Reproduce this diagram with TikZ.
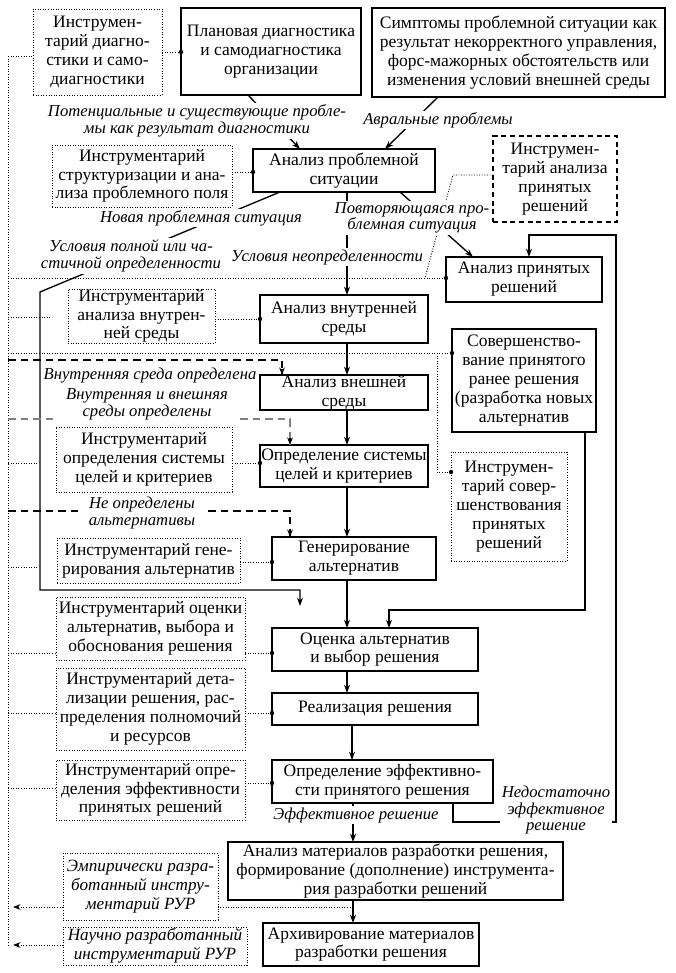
\documentclass[tikz,border=0pt]{standalone}
\usepackage{fontspec}
\setmainfont{Liberation Serif}
\usetikzlibrary{arrows.meta,calc}
\newcommand\mybox[7]{\node[#1, minimum width={(#5-#3)*0.6pt}, minimum height={(#6-#4)*0.6pt}] (#2) at ({(#3+#5)/2},{(#4+#6)/2}) {#7};}
\newcommand\tbconn[3]{\coordinate (tmp) at (0,#3); \draw[conn] (#1.east |- tmp) -- (#2.west |- tmp); \fill (#2.west |- tmp) circle (1.3pt);}
\begin{document}
\begin{tikzpicture}[x=0.6pt,y=-0.6pt,
 box/.style={draw, line width=0.8pt, align=center, inner sep=0pt, outer sep=0pt, font=\fontsize{10.5}{11.3}\selectfont},
 tool/.style={draw, line width=0.55pt, dash pattern=on 0.55pt off 1pt, align=center, inner sep=0pt, outer sep=0pt, font=\fontsize{10.5}{11.3}\selectfont},
 tooldash/.style={tool, line width=0.75pt, dash pattern=on 3pt off 2.2pt},
 itool/.style={tool, font=\itshape\fontsize{10.3}{11.3}\selectfont},
 conn/.style={line width=0.55pt, dash pattern=on 0.55pt off 1pt},
 arr/.style={line width=0.8pt, -{Stealth[length=5pt,width=3.6pt]}},
 darr/.style={-{Stealth[length=4.5pt,width=3.4pt]}},
 lab/.style={font=\itshape\fontsize{10}{10}\selectfont, align=center, fill=white, inner sep=1pt},
 dsh/.style={line width=0.8pt, dash pattern=on 4.5pt off 3pt},
 dshg/.style={line width=0.8pt, gray, dash pattern=on 4.5pt off 3pt},
]
\useasboundingbox (0,0) rectangle (675,973);
% boxes
\mybox{box}{B1}{181}{8}{361}{95}{Плановая диагностика\\и самодиагностика\\организации}
\mybox{box}{B2}{372}{8}{665}{97}{Симптомы проблемной ситуации как\\результат некорректного управления,\\форс-мажорных обстоятельств или\\изменения условий внешней среды}
\mybox{tool}{T1}{33}{9}{162}{95}{Инструмен-\\тарий диагно-\\стики и само-\\диагностики}
\mybox{box}{B3}{253}{149}{435}{192}{Анализ проблемной\\ситуации}
\mybox{tool}{T2}{52}{145}{232}{207}{Инструментарий\\структуризации и ана-\\лиза проблемного поля}
\mybox{tooldash}{T3}{493}{136}{617}{222}{Инструмен-\\тарий анализа\\принятых\\решений}
\mybox{box}{B5}{446}{257}{602}{302}{Анализ принятых\\решений}
\mybox{box}{B4}{260}{295}{428}{343}{Анализ внутренней\\среды}
\mybox{tool}{T4}{68}{289}{215}{343}{Инструментарий\\анализа внутрен-\\ней среды}
\mybox{box}{B6}{452}{329}{596}{432}{Совершенство-\\вание принятого\\ранее решения\\(разработка новых\\альтернатив}
\mybox{box}{B7}{260}{375}{428}{410}{Анализ внешней\\среды}
\mybox{box}{B8}{260}{445}{428}{487}{Определение системы\\целей и критериев}
\mybox{tool}{T6}{56}{427}{232}{492}{Инструментарий\\определения системы\\целей и критериев}
\mybox{tool}{T5}{451}{452}{567}{561}{Инструмен-\\тарий совер-\\шенствования\\принятых\\решений}
\mybox{box}{B9}{272}{537}{436}{580}{Генерирование\\альтернатив}
\mybox{tool}{T7}{57}{538}{240}{583}{Инструментарий гене-\\рирования альтернатив}
\mybox{tool}{T8}{56}{597}{245}{660}{Инструментарий оценки\\альтернатив, выбора и\\обоснования решения}
\mybox{box}{B10}{272}{628}{478}{671}{Оценка альтернатив\\и выбор решения}
\mybox{tool}{T9}{56}{668}{245}{750}{Инструментарий дета-\\лизации решения, рас-\\пределения полномочий\\и ресурсов}
\mybox{box}{B11}{272}{693}{478}{725}{Реализация решения}
\mybox{tool}{T10}{56}{760}{245}{820}{Инструментарий опре-\\деления эффективности\\принятых решений}
\mybox{box}{B12}{272}{760}{493}{803}{Определение эффективно-\\сти принятого решения}
\mybox{box}{B13}{228}{842}{563}{900}{Анализ материалов разработки решения,\\формирование (дополнение) инструмента-\\рия разработки решений}
\mybox{itool}{T11}{63}{853}{218}{920}{Эмпирически разра-\\ботанный инстру-\\ментарий РУР}
\mybox{itool}{T12}{63}{927}{247}{965}{Научно разработанный\\инструментарий РУР}
\mybox{box}{B14}{263}{923}{479}{966}{Архивирование материалов\\разработки решения}
% coordinates
\coordinate (railtop) at (8,56);
\coordinate (railbot) at (8,945);
\coordinate (x248) at (248,0);
\coordinate (x300) at (300,0);
\coordinate (x438) at (438,0);
\coordinate (x385) at (385,0);
\coordinate (x347) at (347,0);
\coordinate (x352) at (352,0);
\coordinate (x353) at (353,0);
\coordinate (x400) at (400,0);
\coordinate (x473) at (473,0);
\coordinate (x280) at (280,0);
\coordinate (x585) at (585,0);
\coordinate (x389) at (389,0);
\coordinate (x453) at (453,0);
\coordinate (x529) at (529,0);
\coordinate (x282) at (282,0);
\coordinate (x290) at (290,0);
% rail
\draw[conn] (railtop) -- (railbot);
\draw[conn] (railtop) -- (T1.west |- railtop);
\coordinate (r317) at (8,317); \coordinate (e317) at (50,317);
\draw[conn] (r317) -- (e317);
\coordinate (r463) at (8,463); \coordinate (e463) at (37,463);
\draw[conn] (r463) -- (e463);
\coordinate (r567) at (8,567); \coordinate (e567) at (37,567);
\draw[conn] (r567) -- (e567);
\coordinate (r653) at (8,653); \draw[conn] (r653) -- (T8.west |- r653);
\coordinate (r713) at (8,713); \draw[conn] (r713) -- (T9.west |- r713);
\coordinate (r788) at (8,788); \draw[conn] (r788) -- (T10.west |- r788);
% long dotted lines
\coordinate (r278) at (8,278);
\draw[conn] (r278) -- (B5.west |- r278); \fill (B5.west |- r278) circle (1.3pt);
\coordinate (r353) at (8,353);
\draw[conn] (r353) -- (B6.west |- r353); \fill (B6.west |- r353) circle (1.3pt);
\coordinate (k353) at (437,353); \coordinate (k472) at (437,472);
\draw[conn] (k353) -- (k472) -- (T5.west |- k472); \fill (T5.west |- k472) circle (1.3pt);
\coordinate (t175) at (453,175); \coordinate (t278) at (425,278);
\draw[conn] (T3.west |- t175) -- (t175) -- (t278);
% tool to box connectors
\tbconn{T1}{B1}{52}
\tbconn{T2}{B3}{172}
\tbconn{T4}{B4}{319}
\tbconn{T6}{B8}{463}
\tbconn{T7}{B9}{562}
\tbconn{T8}{B10}{653}
\tbconn{T9}{B11}{713}
\tbconn{T10}{B12}{783}
% bottom
\coordinate (a907) at (13,907); \coordinate (a945) at (13,945);
\coordinate (m907) at (353,907);
\draw[conn] (m907) -- (T11.east |- m907);
\draw[conn, darr] (T11.west |- a907) -- (a907);
\draw[conn, darr] (T12.west |- a945) -- (a945);
% main arrows
\draw[arr] (B1.south -| x248) -- (B3.north -| x300);
\draw[arr] (B2.south -| x438) -- (B3.north -| x385);
\draw[arr] (B3.south -| x347) -- (B4.north -| x347);
\draw[arr] (B3.south -| x400) -- (B5.north -| x473);
\draw[arr] (B4.south -| x347) -- (B7.north -| x347);
\draw[arr] (B7.south -| x347) -- (B8.north -| x347);
\draw[arr] (B8.south -| x347) -- (B9.north -| x347);
\draw[arr] (B9.south -| x347) -- (B10.north -| x347);
\draw[arr] (B10.south -| x347) -- (B11.north -| x347);
\draw[arr] (B11.south -| x352) -- (B12.north -| x352);
\draw[arr] (B12.south -| x353) -- (B13.north -| x353);
\draw[arr] (B13.south -| x353) -- (B14.north -| x353);
% loops
\coordinate (l1) at (40,292); \coordinate (l2) at (40,590); \coordinate (l3) at (300,590); \coordinate (l4) at (300,606);
\draw[arr] (B3.south -| x280) -- (l1) -- (l2) -- (l3) -- (l4);
\coordinate (m1) at (585,610); \coordinate (m2) at (389,610);
\draw[arr] (B6.south -| x585) -- (m1) -- (m2) -- (B10.north -| x389);
\coordinate (n1) at (453,822); \coordinate (n2) at (616,822); \coordinate (n3) at (616,235); \coordinate (n4) at (529,235);
\draw[arr] (B12.south -| x453) -- (n1) -- (n2) -- (n3) -- (n4) -- (B5.north -| x529);
% dashed
\coordinate (d1) at (8,360); \coordinate (d2) at (282,360);
\draw[dsh] (d1) -- (d2) -- (B7.north -| x282);
\draw[darr, line width=0.8pt] ($(B7.north -| x282)+(0,-6)$) -- (B7.north -| x282);
\coordinate (g1) at (8,419); \coordinate (g2) at (53,419); \coordinate (g3) at (240,419); \coordinate (g4) at (290,419);
\draw[dshg] (g1) -- (g2);
\draw[dshg] (g3) -- (g4) -- (B8.north -| x290);
\draw[darr, line width=0.8pt] ($(B8.north -| x290)+(0,-7)$) -- (B8.north -| x290);
\coordinate (h1) at (8,511); \coordinate (h2) at (80,511); \coordinate (h3) at (208,511); \coordinate (h4) at (290,511);
\draw[dsh] (h1) -- (h2);
\draw[dsh] (h3) -- (h4) -- (B9.north -| x290);
\draw[darr, line width=0.8pt] ($(B9.north -| x290)+(0,-7)$) -- (B9.north -| x290);
% labels
\node[lab] (L1) at (197,121) {Потенциальные и существующие пробле-\\мы как результат диагностики};
\node[lab] (L2) at (438,120) {Авральные проблемы};
\node[lab] (L3) at (201,218) {Новая проблемная ситуация};
\node[lab] (L4) at (412,218) {Повторяющаяся про-\\блемная ситуация};
\node[lab] (L5) at (131,256) {Условия полной или ча-\\стичной определенности};
\node[lab] (L6) at (327,257) {Условия неопределенности};
\node[lab] (L7) at (150,376) {Внутренняя среда определена};
\node[lab] (L8) at (147,404) {Внутренняя и внешняя\\среды определены};
\node[lab] (L9) at (142,513) {Не определены\\альтернативы};
\node[lab] (L10) at (356,815) {Эффективное решение};
\node[lab] (L11) at (556,810) {Недостаточно\\эффективное\\решение};
\end{tikzpicture}
\end{document}
